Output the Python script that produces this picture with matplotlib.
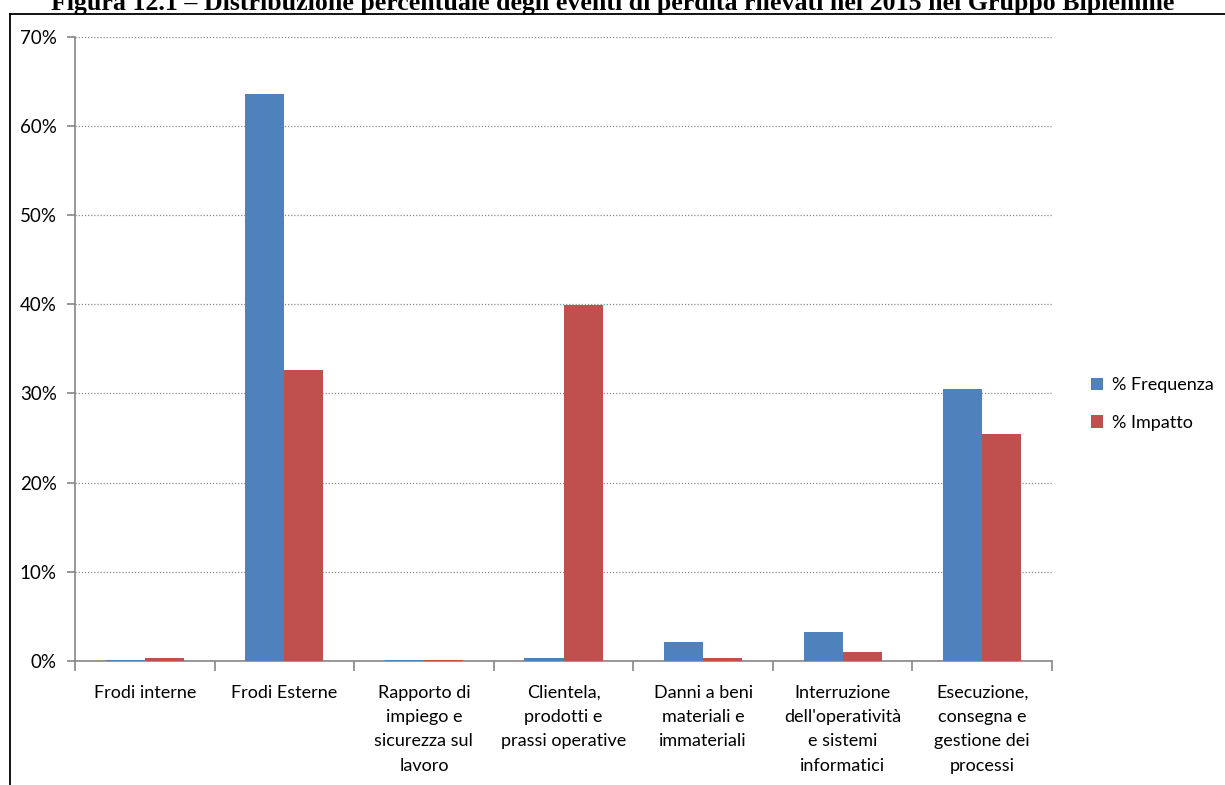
import numpy as np
import matplotlib
matplotlib.use('Agg')
import matplotlib.pyplot as plt
from matplotlib.lines import Line2D

categories = ['Frodi interne', 'Frodi Esterne', 'Rapporto di\nimpiego e\nsicurezza sul\nlavoro',
              'Clientela,\nprodotti e\nprassi operative', 'Danni a beni\nmateriali e\nimmateriali',
              "Interruzione\ndell'operatività\ne sistemi\ninformatici",
              'Esecuzione,\nconsegna e\ngestione dei\nprocessi']
frequenza = [0.1, 63.6, 0.1, 0.3, 2.1, 3.3, 30.5]
impatto = [0.3, 32.6, 0.1, 39.9, 0.3, 1.0, 25.5]
series_names = ['% Frequenza', '% Impatto']
colors = ['#4F81BD', '#C0504D']

plt.rcParams['font.family'] = ['Lato', 'DejaVu Sans']

fig = plt.figure(figsize=(12.25, 7.85), dpi=100)
ax = fig.add_axes([0.0612, 0.158, 0.7976, 0.7953])

x = np.arange(len(categories))
w = 0.28
ax.bar(x - w / 2, frequenza, w, color=colors[0], label=series_names[0], zorder=3)
ax.bar(x + w / 2, impatto, w, color=colors[1], label=series_names[1], zorder=3)

ax.set_xlim(-0.5, len(categories) - 0.5)
ax.set_ylim(0, 70)
ax.set_yticks(range(0, 71, 10))
ax.set_yticklabels([f'{v}%' for v in range(0, 71, 10)], fontsize=13.5)
ax.yaxis.grid(True, linestyle=(0, (1, 1.5)), color='#8c8c8c', linewidth=0.9)

ax.set_xticks(np.arange(len(categories) + 1) - 0.5)
ax.set_xticklabels([])
ax.set_xticks(x, minor=True)
ax.set_xticklabels(categories, minor=True, fontsize=13, linespacing=1.65, ha='center', va='top')
ax.tick_params(axis='x', which='minor', length=0, pad=17)
ax.tick_params(axis='x', which='major', length=7, color='#868686', width=1.2)
ax.tick_params(axis='y', length=6, color='#868686', width=1.2, pad=7)

for s in ['top', 'right']:
    ax.spines[s].set_visible(False)
for s in ['left', 'bottom']:
    ax.spines[s].set_color('#868686')
    ax.spines[s].set_linewidth(1.2)

leg = fig.legend(loc='upper left', bbox_to_anchor=(0.877, 0.540), frameon=False, fontsize=13,
                 handlelength=0.7, handleheight=0.7, handletextpad=0.5, labelspacing=1.2)

# title is partly cut at the top edge, as in the source picture
fig.text(0.5, 1 - 10 / 785, 'Figura 12.1 – Distribuzione percentuale degli eventi di perdita rilevati nel 2015 nel Gruppo Bipiemme',
         ha='center', va='baseline', fontsize=18.6, fontweight='bold', family='Liberation Serif')
fig.add_artist(Line2D([10 / 1225, 1], [1 - 14 / 785, 1 - 14 / 785], color='black', linewidth=1.3))
fig.add_artist(Line2D([10 / 1225, 10 / 1225], [0, 1 - 14 / 785], color='black', linewidth=1.3))

fig.savefig('out.png', dpi=100)
